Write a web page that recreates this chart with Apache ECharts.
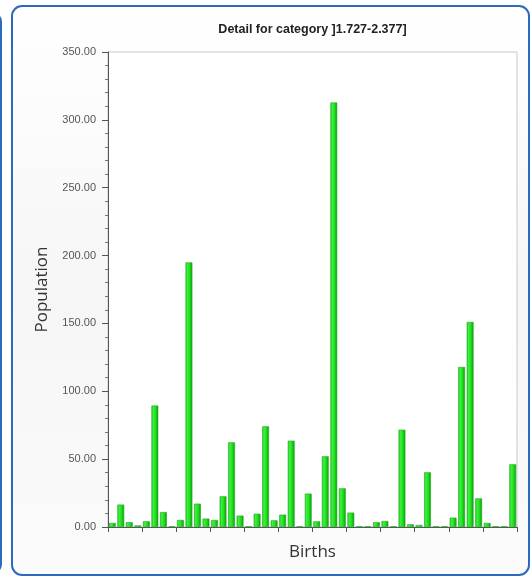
<!DOCTYPE html>
<html>
<head>
<meta charset="utf-8">
<script src="https://cdn.jsdelivr.net/npm/echarts@6/dist/echarts.min.js"></script>
<style>
html,body{margin:0;padding:0;background:#fff;}
#c{width:532px;height:577px;}
</style>
</head>
<body>
<div id="c"></div>
<script>
var titleText = 'Detail for category ]1.727-2.377]';
var xName = 'Births';
var yName = 'Population';
var categories = ['c01','c02','c03','c04','c05','c06','c07','c08','c09','c10','c11','c12',
  'c13','c14','c15','c16','c17','c18','c19','c20','c21','c22','c23','c24',
  'c25','c26','c27','c28','c29','c30','c31','c32','c33','c34','c35','c36',
  'c37','c38','c39','c40','c41','c42','c43','c44','c45','c46','c47','c48'];
var population = [3, 16.5, 3.5, 1.2, 4.2, 89.5, 11, 0.5, 5.2, 195, 17.2, 6.2,
  5.2, 22.6, 62.4, 8.4, 0.5, 9.8, 74.2, 4.9, 9.1, 63.6, 0.5, 24.6,
  4.2, 52.1, 312.8, 28.5, 10.6, 0.5, 0.5, 3.5, 4.4, 0.5, 71.7, 2,
  1.5, 40.3, 0.5, 0.5, 6.9, 117.9, 151.1, 21.1, 3, 0.5, 0.5, 46.2];
var yMin = 0, yMax = 350, yStep = 50;

var chart = echarts.init(document.getElementById('c'), null, {renderer:'canvas'});
var frameColor = '#2d69bd';
chart.setOption({
  backgroundColor: '#ffffff',
  animation: false,
  graphic: [
    {type:'rect', z:-10, shape:{x:-100, y:12, width:101, height:562, r:10},
     style:{fill:'#fafafa', stroke:frameColor, lineWidth:2}},
    {type:'rect', z:-10, shape:{x:12, y:6, width:517, height:569, r:10},
     style:{fill:new echarts.graphic.LinearGradient(0,0,0,1,[{offset:0,color:'#ffffff'},{offset:0.5,color:'#f6f6f6'},{offset:1,color:'#fbfbfb'}]),
            stroke:frameColor, lineWidth:2}},
    {type:'text', z:10, x:312.5, y:30,
     style:{text:titleText, font:'bold 12.5px "Liberation Sans", Arial, sans-serif', fill:'#222', align:'center', verticalAlign:'middle'}}
  ],
  grid: {left:108, right:15, top:52, bottom:50, show:true, backgroundColor:'#ffffff', borderColor:'#c9c9c9', borderWidth:1},
  xAxis: {
    type:'category', data:categories, boundaryGap:true,
    name:xName, nameLocation:'middle', nameGap:17,
    nameTextStyle:{fontFamily:'"Open Sans","DejaVu Sans",sans-serif', fontSize:17, color:'#333'},
    axisLine:{lineStyle:{color:'#555', width:1}},
    axisTick:{show:true, interval:3, length:5, lineStyle:{color:'#555'}},
    axisLabel:{show:false}
  },
  yAxis: {
    type:'value', min:yMin, max:yMax, interval:yStep,
    name:yName, nameLocation:'middle', nameGap:57, nameRotate:90,
    nameTextStyle:{fontFamily:'"Open Sans","DejaVu Sans",sans-serif', fontSize:17, color:'#333'},
    axisLine:{show:true, lineStyle:{color:'#555', width:1}},
    axisTick:{show:true, length:6, lineStyle:{color:'#555'}},
    minorTick:{show:true, splitNumber:5, length:3, lineStyle:{color:'#777'}},
    splitLine:{show:false},
    axisLabel:{formatter:function(v){return v.toFixed(2);}, fontFamily:'"Liberation Sans", Arial, sans-serif', fontSize:11, color:'#555', margin:12}
  },
  series: [{
    type:'bar', data:population, barCategoryGap:'20%',
    itemStyle:{
      color:new echarts.graphic.LinearGradient(0,0,1,0,[
        {offset:0,color:'#1fc41f'},{offset:0.25,color:'#3cf23c'},{offset:0.6,color:'#1ee01e'},{offset:1,color:'#079a07'}]),
      borderColor:'#2aa52a', borderWidth:0.6
    }
  }]
});
</script>
</body>
</html>
